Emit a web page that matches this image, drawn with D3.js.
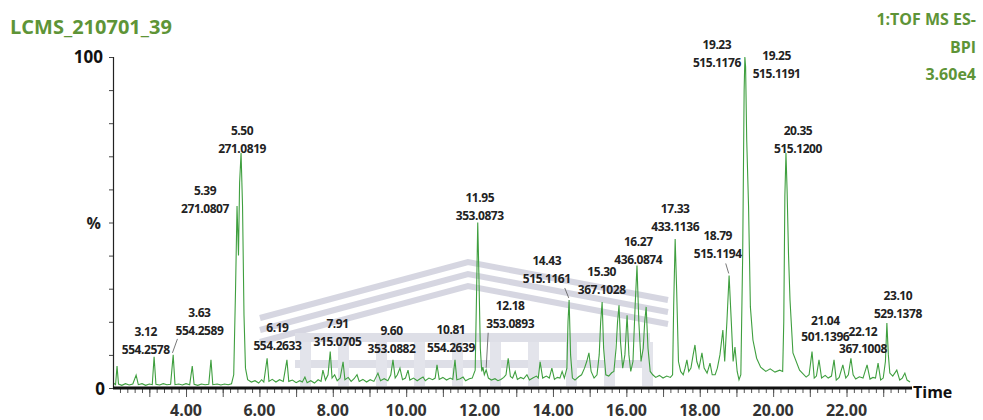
<!DOCTYPE html>
<meta charset="utf-8">
<script src="https://d3js.org/d3.v7.min.js"></script>
<style>
  body { margin: 0; background: #fff; }
  text { font-family: "Open Sans", sans-serif; font-weight: bold; }
</style>
<div id="chart"></div>
<script>
// retention time (min) and relative intensity (%) of the BPI trace
var rtMin = [2.02,2.08,2.12,2.16,2.25,2.35,2.45,2.55,2.64,2.70,2.80,2.90,3.00,3.08,3.13,3.18,3.28,3.38,3.48,3.58,3.65,3.70,3.80,3.90,4.00,4.10,4.17,4.22,4.32,4.42,4.52,4.62,4.68,4.73,4.85,4.95,5.05,5.15,5.24,5.30,5.35,5.39,5.43,5.46,5.50,5.54,5.58,5.62,5.68,5.78,5.88,5.98,6.06,6.12,6.21,6.26,6.35,6.45,6.55,6.65,6.75,6.80,6.90,7.00,7.10,7.17,7.24,7.30,7.40,7.50,7.60,7.68,7.73,7.80,7.87,7.93,7.98,8.05,8.12,8.20,8.28,8.33,8.42,8.50,8.58,8.66,8.72,8.82,8.92,9.02,9.12,9.23,9.30,9.40,9.50,9.58,9.64,9.70,9.76,9.83,9.90,9.98,10.05,10.10,10.20,10.30,10.38,10.46,10.52,10.62,10.72,10.79,10.84,10.90,11.00,11.10,11.20,11.27,11.33,11.38,11.47,11.55,11.62,11.72,11.80,11.88,11.92,11.95,11.98,12.02,12.06,12.09,12.13,12.18,12.24,12.32,12.42,12.50,12.58,12.66,12.72,12.78,12.84,12.90,12.97,13.03,13.12,13.20,13.29,13.36,13.45,13.55,13.60,13.65,13.72,13.82,13.90,13.97,14.04,14.12,14.19,14.25,14.31,14.38,14.41,14.44,14.48,14.53,14.60,14.70,14.78,14.86,14.92,14.98,15.04,15.12,15.20,15.26,15.30,15.34,15.38,15.44,15.52,15.60,15.66,15.72,15.76,15.80,15.84,15.90,15.96,16.02,16.07,16.12,16.18,16.24,16.29,16.34,16.40,16.46,16.50,16.54,16.59,16.65,16.72,16.80,16.90,17.00,17.10,17.20,17.26,17.29,17.33,17.37,17.42,17.48,17.55,17.60,17.65,17.70,17.76,17.82,17.87,17.92,17.98,18.06,18.12,18.20,18.28,18.34,18.42,18.48,18.55,18.63,18.68,18.74,18.80,18.86,18.91,18.96,19.02,19.07,19.12,19.17,19.21,19.23,19.25,19.28,19.33,19.38,19.45,19.55,19.66,19.80,19.92,20.05,20.18,20.26,20.29,20.32,20.35,20.38,20.42,20.46,20.54,20.72,20.90,20.98,21.06,21.12,21.18,21.25,21.32,21.42,21.50,21.59,21.66,21.72,21.80,21.90,21.98,22.05,22.12,22.18,22.25,22.35,22.45,22.56,22.64,22.72,22.79,22.86,22.93,23.00,23.06,23.10,23.14,23.18,23.26,23.37,23.45,23.52,23.59,23.65,23.73];
var intensity = [1.5,1.0,6.6,1.2,0.8,1.3,0.9,1.2,3.9,1.0,1.3,0.8,1.2,1.0,9.4,1.1,0.9,1.3,1.0,1.1,10.0,1.0,1.2,0.9,1.3,1.0,6.6,1.1,0.8,1.2,1.0,1.1,8.5,1.0,1.2,0.9,1.2,1.0,1.3,4,30,55,40,62,71,55,22,6,2.5,1.8,2.2,1.5,2.5,1.8,9,2,2.6,1.8,2.5,2,8.5,2,2.4,1.6,2.2,1.8,3.3,1.6,2.2,1.5,2.5,2,5.4,2.4,4,11,3,4,2.2,3,7.9,2.5,3.2,2,2.8,4,2,2.6,1.8,2.5,2.0,4.5,2.2,2.8,2.2,4,8.5,3,4,6,2.5,3,5.4,2.4,3,2.2,2.8,3.3,2.2,3,2.5,3,7,2.6,3.2,2.4,3,2.6,8.5,2.5,2.8,3.3,2.2,2.8,3,5.4,30,50,35,12,5,6.3,4,5.5,3,2.4,2.8,2.2,2.6,3.2,4,9,3.5,3,5,2.6,3.2,2.8,4,2.4,3,3.6,3,7.9,3,3.6,3,6,2.6,3.2,3,5,3,6,20,26.6,10,3,2.4,3.4,4,6,8,10.6,5,3,4,10,20,26,12,4,3.6,4.6,5,12,20,25,14,6,10,22,10,5,8,25,37,20,8,12,20,24.5,12,5,4,3.2,3.8,3,3.6,3.2,4,25,45,30,8,5,4,6,8.5,5,6,10,13,8,6,10.6,6,4.5,7.5,4,4,6,10,17.5,8,20,34,20,8,12.4,5,2.5,4,40,90,100,97,75,55,24.5,14.5,9,6.3,5,5.8,4.8,5.4,5,20,58,71,60,40,26.6,10.6,5.4,3.3,4,11,3,3.6,8.5,3,3.8,3,3.6,8.5,2.4,3.2,7,3,4,9,4,2.7,3.4,3,7,2.7,3.2,3,7.5,2.4,3,8,19.6,10,4.5,3.6,5.4,2.4,3,4.5,2.4,1.8];

// annotated peaks: retention time label, m/z label, apex intensity
var peakRt = ["3.12","3.63","5.39","5.50","6.19","7.91","9.60","10.81","11.95","12.18","14.43","15.30","16.27","17.33","18.79","19.23","19.25","20.35","21.04","22.12","23.10"];
var peakMz = ["554.2578","554.2589","271.0807","271.0819","554.2633","315.0705","353.0882","554.2639","353.0873","353.0893","515.1161","367.1028","436.0874","433.1136","515.1194","515.1176","515.1191","515.1200","501.1396","367.1008","529.1378"];
var peakTop = [9.4,10,55,71,9,11,8.5,7,50,5.5,26.6,26,37,45,34,100,97,71,11,9,19.6];

var xTicks = [4,6,8,10,12,14,16,18,20,22];

var W = 983, H = 420;
var green = "#5e9437";

var svg = d3.select("#chart").append("svg")
    .attr("width", W).attr("height", H);

var x = d3.scaleLinear().domain([2.01, 23.73]).range([113, 910]);
var y = d3.scaleLinear().domain([0, 100]).range([388, 57]);

// faint watermark behind the trace
var wm = svg.append("g").attr("fill", "none").attr("stroke", "#cfd0dc").attr("opacity", 0.85);
[0, 12, 24].forEach(function(o) {
  wm.append("polyline")
    .attr("points", [[260, 318 + o], [468, 262 + o], [668, 300 + o]].join(" "))
    .attr("stroke-width", 6);
});
wm.append("rect").attr("x", 295).attr("y", 333).attr("width", 355).attr("height", 9).attr("fill", "#d9dae3").attr("stroke", "none");
wm.append("rect").attr("x", 295).attr("y", 360).attr("width", 355).attr("height", 8).attr("fill", "#d9dae3").attr("stroke", "none");
d3.range(300, 650, 38).forEach(function(cx) {
  wm.append("rect").attr("x", cx).attr("y", 342).attr("width", 11).attr("height", 44).attr("fill", "#dfe0e8").attr("stroke", "none");
});

// trace
var pts = rtMin.map(function(t, i) { return [t, intensity[i]]; });
svg.append("path")
  .datum(pts)
  .attr("fill", "none")
  .attr("stroke", "#3f9f3f")
  .attr("stroke-width", 1.1)
  .attr("d", d3.line().x(function(d) { return x(d[0]); }).y(function(d) { return y(d[1]); }));

// y axis
var yAxis = svg.append("g").attr("transform", "translate(113,0)")
  .call(d3.axisLeft(y).tickValues(d3.range(0, 101, 10)).tickSize(4).tickFormat(""));
yAxis.select(".domain").attr("stroke", "#222").attr("stroke-width", 1.2);
yAxis.selectAll(".tick line").attr("stroke", "#444");

svg.append("text").attr("x", 103).attr("y", 63).attr("text-anchor", "end")
  .attr("font-size", 17).attr("fill", "#111").text("100");
svg.append("text").attr("x", 105).attr("y", 395).attr("text-anchor", "end")
  .attr("font-size", 17).attr("fill", "#111").text("0");
svg.append("text").attr("x", 101).attr("y", y(50) + 6).attr("text-anchor", "end")
  .attr("font-size", 16).attr("fill", "#222").text("%");

// x axis
var xAxis = svg.append("g").attr("transform", "translate(0,388)")
  .call(d3.axisBottom(x).tickValues(d3.range(2.2, 23.7, 0.2)).tickSize(5).tickFormat(""));
xAxis.select(".domain").remove();
xAxis.selectAll(".tick line").attr("stroke", "#555");
svg.append("g").attr("transform", "translate(0,388)")
  .call(d3.axisBottom(x).tickValues(d3.range(3, 24, 1)).tickSize(9).tickFormat(""))
  .call(function(g) { g.select(".domain").remove(); g.selectAll(".tick line").attr("stroke", "#555"); });
svg.append("line").attr("x1", 113).attr("x2", 912).attr("y1", 388).attr("y2", 388)
  .attr("stroke", "#111").attr("stroke-width", 3);

svg.selectAll(".xlab").data(xTicks).enter().append("text")
  .attr("class", "xlab")
  .attr("x", function(d) { return x(d); })
  .attr("y", 416)
  .attr("text-anchor", "middle")
  .attr("font-size", 16)
  .attr("fill", "#333")
  .text(function(d) { return d.toFixed(2); });

svg.append("text").attr("x", 913).attr("y", 398)
  .attr("font-size", 16).attr("fill", "#111").text("Time");

// peak labels: offsets (px) of the m/z line from the apex, gap to the rt line
var nudge = [[-8,-3],[27,-20],[-32,7],[1,0],[11,-8],[8,-6],[0,-7],[15,-13],[2,-3],[24,-42],[-22,-17],[1,-8],[2,-2],[0,-8],[-11,-17],[-28,10],[31,11],[12,0],[14,-11,16],[12,-5,17],[11,-5]];
var leaders = {"3.63": [-22, 4], "12.18": [-22, 5], "14.43": [18, 5], "18.79": [8, 5]};

peakRt.forEach(function(rt, i) {
  var px = x(+rt), py = y(peakTop[i]);
  var lx = px + nudge[i][0], ly = py + nudge[i][1];
  var gap = nudge[i][2] || 18;
  var g = svg.append("g").attr("text-anchor", "middle").attr("font-size", 12)
    .attr("letter-spacing", -0.45).attr("fill", "#222");
  g.append("text").attr("x", lx).attr("y", ly - gap).text(rt);
  g.append("text").attr("x", lx).attr("y", ly).text(peakMz[i]);
  if (leaders[rt]) {
    svg.append("line").attr("x1", lx + leaders[rt][0]).attr("y1", ly + leaders[rt][1])
      .attr("x2", px).attr("y2", py - 2)
      .attr("stroke", "#555").attr("stroke-width", 0.8);
  }
});

// titles
svg.append("text").attr("x", 10).attr("y", 34)
  .attr("font-size", 20).attr("fill", green).text("LCMS_210701_39");
var rt = svg.append("g").attr("text-anchor", "end").attr("font-size", 16).attr("fill", green);
rt.append("text").attr("x", 976).attr("y", 25).text("1:TOF MS ES-");
rt.append("text").attr("x", 976).attr("y", 53).text("BPI");
rt.append("text").attr("x", 976).attr("y", 80).text("3.60e4");
</script>
